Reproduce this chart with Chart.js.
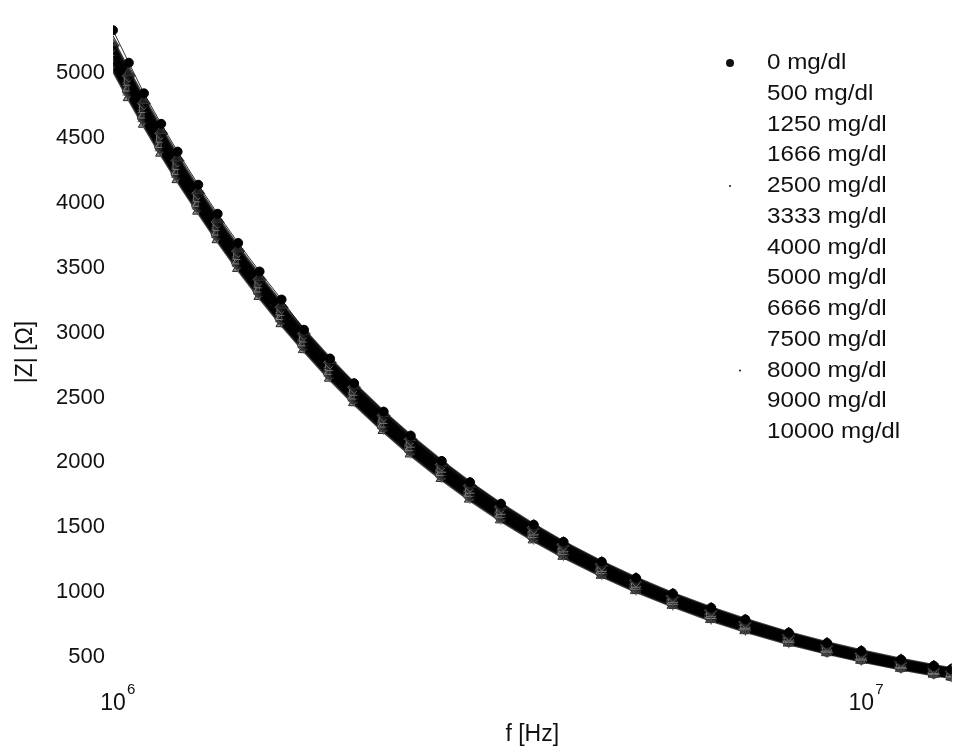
<!DOCTYPE html>
<html>
<head>
<meta charset="utf-8">
<script src="https://cdn.jsdelivr.net/npm/chart.js@4.4.1/dist/chart.umd.min.js"></script>
<style>
  html, body { margin: 0; padding: 0; background: #fff; }
  #wrap { width: 959px; height: 749px; }
</style>
</head>
<body>
<div id="wrap"><canvas id="impChart" width="959" height="749"></canvas></div>
<script>
// frequency points, Hz
var freqs = [1.00e6, 1.05e6, 1.10e6, 1.16e6, 1.22e6, 1.30e6, 1.38e6, 1.47e6, 1.57e6, 1.68e6,
             1.80e6, 1.95e6, 2.10e6, 2.30e6, 2.50e6, 2.75e6, 3.00e6, 3.30e6, 3.65e6, 4.00e6,
             4.50e6, 5.00e6, 5.60e6, 6.30e6, 7.00e6, 8.00e6, 9.00e6, 10.0e6, 11.3e6, 12.5e6, 13.2e6];

var labels = ['0 mg/dl', '500 mg/dl', '1250 mg/dl', '1666 mg/dl', '2500 mg/dl', '3333 mg/dl', '4000 mg/dl',
              '5000 mg/dl', '6666 mg/dl', '7500 mg/dl', '8000 mg/dl', '9000 mg/dl', '10000 mg/dl'];

// |Z| in ohm, one array per concentration
var z0     = [5330,5080,4844,4609,4395,4140,3916,3691,3471,3255,3022,2800,2610,2391,2206,2011,1847,1681,1520,1388,1234,1109,989,880,790,688,609,547,481,433,408];
var z500   = [5237,5004,4791,4559,4347,4095,3872,3647,3428,3213,3009,2787,2597,2378,2194,1999,1835,1670,1510,1378,1225,1101,981,872,782,681,603,541,475,427,403];
var z1250  = [5211,4979,4767,4536,4326,4074,3852,3628,3409,3195,2991,2770,2579,2361,2178,1983,1820,1656,1497,1366,1213,1089,970,861,772,672,594,532,468,420,396];
var z1666  = [5192,4961,4750,4519,4309,4059,3837,3613,3395,3181,2978,2757,2566,2349,2165,1972,1809,1645,1487,1356,1204,1081,962,853,765,665,588,526,462,414,391];
var z2500  = [5172,4942,4732,4503,4293,4044,3822,3599,3381,3168,2964,2743,2553,2336,2153,1960,1798,1635,1476,1346,1195,1073,955,846,757,658,581,520,456,409,386];
var z3333  = [5153,4924,4714,4486,4277,4029,3807,3584,3367,3154,2951,2730,2540,2324,2141,1948,1786,1624,1466,1337,1186,1064,947,838,750,651,575,514,450,403,381];
var z4000  = [5134,4905,4696,4469,4261,4014,3792,3570,3352,3140,2938,2717,2527,2311,2129,1936,1775,1613,1456,1327,1177,1056,939,830,743,645,568,508,444,398,375];
var z5000  = [5114,4887,4679,4452,4245,3999,3777,3555,3338,3126,2924,2704,2514,2298,2116,1925,1764,1602,1446,1317,1168,1048,931,822,735,638,562,501,439,392,370];
var z6666  = [5095,4868,4661,4435,4229,3983,3762,3541,3324,3113,2911,2691,2501,2286,2104,1913,1753,1592,1436,1308,1159,1039,923,814,728,631,555,495,433,387,365];
var z7500  = [5082,4856,4649,4424,4218,3973,3753,3531,3315,3103,2902,2682,2493,2277,2096,1905,1745,1584,1429,1301,1153,1034,918,809,723,626,551,491,429,383,362];
var z8000  = [5069,4843,4637,4413,4208,3963,3743,3521,3305,3094,2893,2673,2484,2269,2088,1897,1738,1577,1422,1295,1147,1028,913,804,718,622,546,487,425,380,358];
var z9000  = [5056,4831,4626,4401,4197,3953,3733,3512,3296,3085,2885,2665,2475,2261,2080,1890,1730,1570,1415,1288,1141,1023,907,799,713,617,542,483,421,376,355];
var z10000 = [5037,4813,4608,4385,4181,3938,3718,3497,3281,3071,2871,2651,2462,2248,2067,1878,1719,1559,1405,1278,1132,1014,900,791,705,610,536,477,415,370,349];

var xTicks = [1e6, 1e7];
var xTickExp = ['6', '7'];
var yTicks = [500, 1000, 1500, 2000, 2500, 3000, 3500, 4000, 4500, 5000];

var allZ = [z0, z500, z1250, z1666, z2500, z3333, z4000, z5000, z6666, z7500, z8000, z9000, z10000];
var styles = ['circle', 'triangle', 'rectRot', 'crossRot', 'rect', 'cross', 'star',
              'triangle', 'circle', 'rectRot', 'crossRot', 'star', 'triangle'];
var greys = ['#000', '#333', '#666', '#222', '#777', '#444', '#555',
             '#888', '#333', '#666', '#444', '#777', '#222'];

var FONT = 'Liberation Sans, Arial, sans-serif';

var datasets = allZ.map(function (zs, i) {
  return {
    label: labels[i],
    data: zs.map(function (z, j) { return { x: freqs[j], y: z }; }),
    showLine: true,
    borderColor: i === 0 ? 'rgba(0,0,0,0.8)' : 'rgba(0,0,0,0.75)',
    borderWidth: i === 0 ? 1 : 5,
    pointStyle: styles[i],
    pointRadius: i === 0 ? 4.5 : 6.5,
    pointBorderWidth: 1,
    pointBorderColor: greys[i],
    pointBackgroundColor: i === 0 ? '#000' : 'rgba(50,50,50,0.5)'
  };
});

// hand drawn bits: superscript exponents of the x ticks and the text legend on the right
var legendMarks = { 0: 4, 4: 1, 10: 1 };
var extras = {
  id: 'extras',
  afterDraw: function (chart) {
    var ctx = chart.ctx;
    var xs = chart.scales.x;
    ctx.save();
    ctx.fillStyle = '#111';
    ctx.textBaseline = 'middle';
    ctx.font = '15px ' + FONT;
    xTicks.forEach(function (v, k) {
      ctx.fillText(xTickExp[k], xs.getPixelForValue(v) + 14, 690);
    });
    ctx.font = '22px ' + FONT;
    chart.data.datasets.forEach(function (ds, i) {
      var y = 63 + i * 30.75;
      ctx.save();
      ctx.translate(767, y);
      ctx.scale(1.1, 1);
      ctx.fillText(ds.label, 0, 0);
      ctx.restore();
      if (legendMarks[i]) {
        ctx.beginPath();
        ctx.arc(i === 10 ? 740 : 730, y, legendMarks[i], 0, Math.PI * 2);
        ctx.fill();
      }
    });
    ctx.restore();
  }
};

new Chart(document.getElementById('impChart'), {
  type: 'scatter',
  data: { datasets: datasets },
  options: {
    responsive: false,
    animation: false,
    layout: { padding: { top: 17, right: 2, left: 0, bottom: 0 } },
    plugins: { legend: { display: false }, tooltip: { enabled: false } },
    scales: {
      x: {
        type: 'logarithmic',
        min: 1e6,
        max: 1.32e7,
        grid: { display: false, drawTicks: false },
        border: { display: false },
        afterBuildTicks: function (s) { s.ticks = xTicks.map(function (v) { return { value: v }; }); },
        afterFit: function (s) { s.height = 66; },
        ticks: {
          autoSkip: false, maxRotation: 0, padding: 7, color: '#111',
          font: { family: FONT, size: 23 },
          callback: function () { return '10'; }
        },
        title: { display: true, text: 'f [Hz]', color: '#111', font: { family: FONT, size: 23 }, padding: { top: 0, bottom: 1 } }
      },
      y: {
        min: 300,
        max: 5400,
        grid: { display: false, drawTicks: false },
        border: { display: false },
        afterBuildTicks: function (s) { s.ticks = yTicks.map(function (v) { return { value: v }; }); },
        afterFit: function (s) { s.width = 113; },
        ticks: {
          padding: 8, color: '#111', font: { family: FONT, size: 22 },
          callback: function (v) { return String(v); }
        },
        title: { display: true, text: '|Z| [\u03A9]', color: '#111', font: { family: FONT, size: 23 }, padding: { top: 12, bottom: 0 } }
      }
    }
  },
  plugins: [extras]
});
</script>
</body>
</html>
